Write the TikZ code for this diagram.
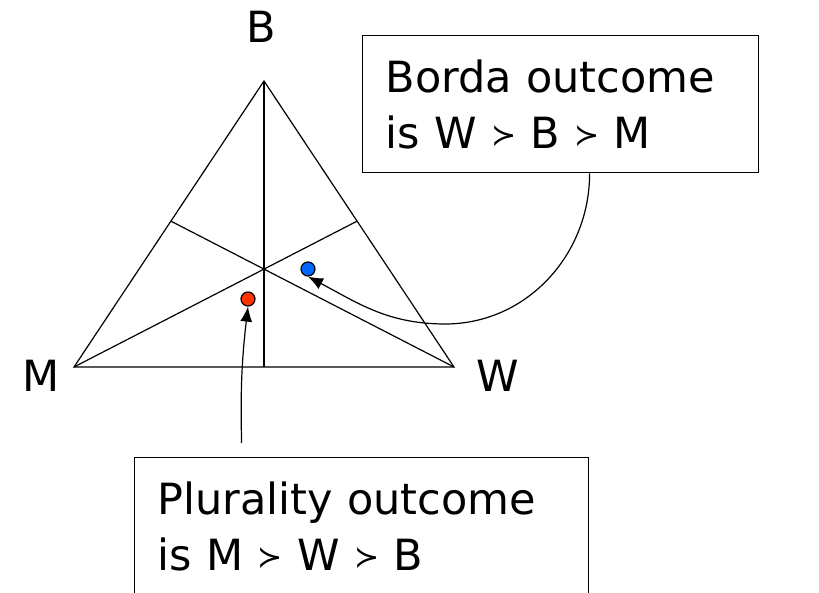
\documentclass[tikz,border=0pt]{standalone}
\usepackage{fontspec}
\setmainfont{DejaVu Sans}
\usetikzlibrary{positioning, calc, arrows.meta}
\definecolor{bordablue}{RGB}{0,102,255}
\definecolor{pluralityred}{RGB}{255,51,0}
\newcommand{\prefers}{\raisebox{3pt}{\fontsize{30}{30}\selectfont ≻}}
\tikzstyle{box}    = [rectangle, draw, anchor=north west, align=left,
                      inner xsep=23pt, inner ysep=24pt,
                      font=\fontsize{43}{56}\selectfont]
\tikzstyle{vlabel} = [font=\fontsize{43}{56}\selectfont]
\tikzstyle{dot}    = [circle, draw, minimum size=14pt, inner sep=0pt]
\tikzstyle{arrow}  = [-{Latex[length=15pt,width=12pt]}]
\begin{document}
\begin{tikzpicture}[x=1pt, y=1pt, line width=1.2pt]
\useasboundingbox (0,0) rectangle (819,592);
% triangle corners
\coordinate (M) at (74,225);
\coordinate (W) at (454,225);
\coordinate (B) at (264,511);
\coordinate (foot) at ($(M)!0.5!(W)$);
\coordinate (left mid) at ($(M)!0.51!(B)$);
\coordinate (right mid) at ($(W)!0.51!(B)$);
\draw (M) -- (W) -- (B) -- cycle;
\draw (B) -- (foot);
\draw (M) -- (right mid);
\draw (W) -- (left mid);
% corner labels
\node (label B) [vlabel] at (261,565) {B};
\node (label M) [vlabel] at (41,216) {M};
\node (label W) [vlabel] at (498,216) {W};
% outcomes
\node (borda dot) [dot, fill=bordablue] at (308,323) {};
\node (plurality dot) [dot, fill=pluralityred] at (248,293) {};
\node (borda) [box, text width=350pt] at (362,557) {Borda outcome\\ is W \prefers{} B \prefers{} M};
\node (plurality) [box, text width=408pt] at (134,135) {Plurality outcome\\ is M \prefers{} W \prefers{} B};
\coordinate (bend) at (445,268);
\draw [arrow] ([xshift=29pt]borda.south) to[out=-90, in=0] (bend) to[out=180, in=-28] (borda dot.south);
\draw [arrow] ([xshift=-120pt, yshift=14pt]plurality.north) to[bend left=4] (plurality dot.south);
\end{tikzpicture}
\end{document}
